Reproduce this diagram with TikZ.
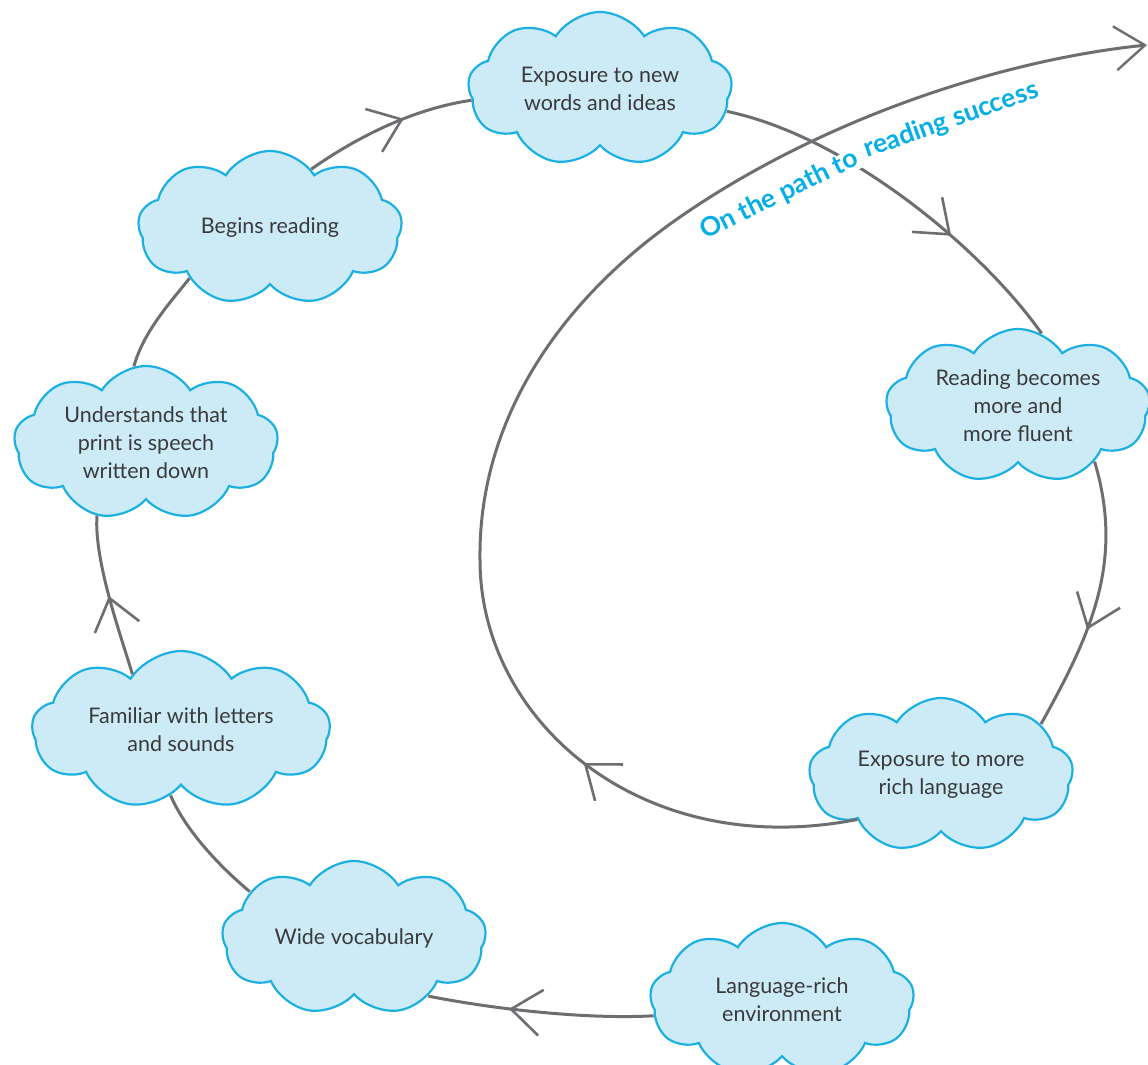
\documentclass[tikz,border=0pt]{standalone}
\usepackage{fontspec}
\setmainfont{Lato}
\usetikzlibrary{shapes.symbols,arrows.meta,decorations.markings}
\definecolor{cloudfill}{HTML}{CCEBF7}
\definecolor{clouddraw}{HTML}{1CB0E2}
\definecolor{linegray}{HTML}{6D6E71}
\definecolor{textgray}{HTML}{3A3A3C}
\definecolor{titlecyan}{HTML}{05AEE6}
\begin{document}
\begin{tikzpicture}[x=1pt,y=-1pt,
  bubble/.style={cloud, cloud puffs=9, cloud puff arc=115, cloud ignores aspect,
    draw=clouddraw, line width=2.2pt, fill=cloudfill, text=textgray, align=center,
    font=\fontsize{21.5}{28}\selectfont, minimum width=264pt, minimum height=154pt, inner sep=0pt},
  conn/.style={draw=linegray, line width=3pt},
  midarrow/.style={postaction={decorate}, decoration={markings,
    mark=at position #1 with {\arrow{Straight Barb[length=30pt,width=46pt,line width=2.6pt]}}}},
  title/.style={text=titlecyan, font=\fontsize{26.5}{26.5}\selectfont\bfseries, inner sep=0pt, anchor=base west},
]
\useasboundingbox (0,0) rectangle (1148,1065);

\node[bubble] (expnew) at (600,89) {Exposure to new\\words and ideas};
\node[bubble, shape border rotate=20] (begins) at (270,228) {Begins reading};
\node[bubble, shape border rotate=10] (underst) at (146,443) {Understands that\\print is speech\\written down};
\node[bubble, minimum width=298pt, minimum height=158pt, shape border rotate=10] (familiar) at (181,730) {Familiar with letters\\and sounds};
\node[bubble, shape border rotate=15] (wide) at (354,938) {Wide vocabulary};
\node[bubble, shape border rotate=25] (lang) at (782,1000) {Language-rich\\environment};
\node[bubble, shape border rotate=5] (fluent) at (1018,406) {Reading becomes\\more and\\more fluent};
\node[bubble, shape border rotate=35] (exmore) at (941,775) {Exposure to more\\rich language};
\coordinate (tipend) at (1147,45);

\draw[conn, midarrow=0.64] (lang.187) .. controls +(-70,4) and +(60,12) .. (wide.-38);
\draw[conn] (wide.156) .. controls +(-30,-25) and +(15,35) .. (familiar.261);
\draw[conn, midarrow=0.5] (familiar.131) .. controls +(-12,-40) and +(-3,45) .. (underst.236);
\draw[conn] (underst.99) .. controls +(10,-35) and +(-20,25) .. (begins.212);
\draw[conn, midarrow=0.6] (begins.55) .. controls +(50,-35) and +(-55,8) .. (expnew.185);
\draw[conn, midarrow=0.66] (expnew.-10) .. controls +(120,25) and +(-60,-85) .. (fluent.72);
\draw[conn, midarrow=0.62] (fluent.-36) .. controls +(30,100) and +(50,-90) .. (exmore.27);
\draw[conn, -{Straight Barb[length=30pt,width=44pt,line width=2.4pt]}, midarrow=0.2]
  (exmore.208) .. controls (640,862) and (480,720) .. (480,560)
  .. controls (478,420) and (560,300) .. (680,217)
  .. controls (820,120) and (1000,60) .. (tipend);

\fill[white, rotate around={28:(851,161)}] (837,150) rectangle (865,172);

\node[title, rotate=26] (title1) at (705,240) {On the path to};
\node[title, rotate=19.5] (title2) at (867,158) {reading success};
\end{tikzpicture}
\end{document}
